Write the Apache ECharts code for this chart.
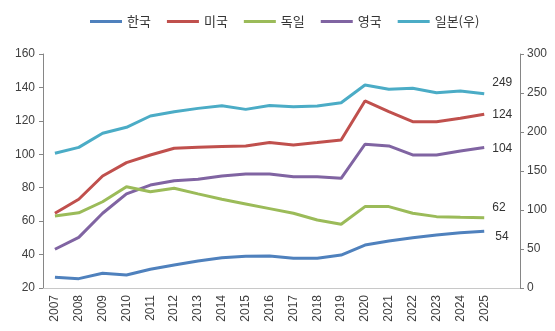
<!DOCTYPE html>
<html>
<head>
<meta charset="utf-8">
<script src="https://cdn.jsdelivr.net/npm/echarts@6/dist/echarts.min.js"></script>
<style>
html,body{margin:0;padding:0;background:#fff;}
#chart{width:555px;height:331px;}
</style>
</head>
<body>
<div id="chart"></div>
<script>
// Categories (last slot empty, as in the reference's axis)
const years = ['2007','2008','2009','2010','2011','2012','2013','2014','2015','2016','2017','2018','2019','2020','2021','2022','2023','2024','2025',''];
// Series values
const korea   = [26.4, 25.6, 28.8, 27.8, 31.2, 33.8, 36.2, 38.1, 39.0, 39.1, 37.8, 37.8, 39.7, 45.7, 48.1, 50.1, 51.7, 53.1, 54];
const usa     = [64.7, 73.1, 87.0, 95.0, 99.6, 103.6, 104.2, 104.6, 105.0, 107.0, 105.6, 107.0, 108.6, 131.9, 125.5, 119.5, 119.5, 121.5, 124];
const germany = [63.1, 65.0, 71.6, 80.6, 77.6, 79.7, 76.3, 73.1, 70.3, 67.5, 64.7, 60.7, 58.1, 68.7, 68.7, 64.7, 62.7, 62.3, 62];
const uk      = [43.2, 50.3, 64.7, 76.3, 81.6, 84.2, 85.0, 87.0, 88.2, 88.2, 86.6, 86.6, 85.6, 106.0, 105.0, 99.6, 99.6, 102.0, 104];
const japan   = [172.7, 180.3, 198.3, 206.0, 220.5, 226.0, 230.3, 233.7, 229.0, 234.0, 232.5, 233.3, 237.6, 260.3, 254.7, 256.0, 250.4, 252.6, 249];
// Axis ticks
const leftTicks = {min: 20, max: 160, interval: 20};
const rightTicks = {min: 0, max: 300, interval: 50};
const names = ['한국','미국','독일','영국','일본(우)'];

const colors = ['#4f81bd','#c0504d','#9bbb59','#8064a2','#4bacc6'];
// order: korea, usa, germany, uk, japan
const labelOffsets = [[6, 6], [3, 1], [3, -10], [3, 1], [3, -11]];
const FONT = '"Liberation Sans", "Noto Sans CJK KR", sans-serif';

function mk(name, data, idx, yIdx) {
  return {
    name: name, type: 'line', yAxisIndex: yIdx, data: data,
    symbol: 'none', showSymbol: false, smooth: false,
    lineStyle: {width: 3, color: colors[idx]},
    itemStyle: {color: colors[idx]},
    endLabel: {
      show: true, distance: 5, offset: labelOffsets[idx],
      formatter: (p) => String(Math.round(p.value)),
      color: '#333', fontSize: 12, fontFamily: FONT
    },
    emphasis: {disabled: true},
    z: 10 - idx
  };
}

const chart = echarts.init(document.getElementById('chart'), null, {renderer: 'canvas'});
chart.setOption({
  animation: false,
  textStyle: {fontFamily: FONT},
  legend: {
    data: names,
    left: 85, top: 10,
    icon: 'rect', itemWidth: 32, itemHeight: 3, itemGap: 16,
    textStyle: {fontSize: 13, color: '#333', fontFamily: '"Noto Sans CJK KR", sans-serif'}
  },
  grid: {left: 43, right: 35, top: 54, bottom: 43, containLabel: false},
  xAxis: {
    type: 'category', data: years, boundaryGap: true,
    axisLine: {show: true, lineStyle: {color: '#c8c8c8', width: 1}},
    axisTick: {show: false},
    axisLabel: {rotate: 90, fontSize: 12, color: '#404040', margin: 7, interval: 0, fontFamily: FONT},
    splitLine: {show: false}
  },
  yAxis: [
    {
      type: 'value', position: 'left', min: leftTicks.min, max: leftTicks.max, interval: leftTicks.interval,
      axisLine: {show: true, lineStyle: {color: '#868686'}},
      axisTick: {show: true, length: 4, lineStyle: {color: '#868686'}},
      axisLabel: {fontSize: 12, color: '#404040', margin: 8, fontFamily: FONT},
      splitLine: {show: false}
    },
    {
      type: 'value', position: 'right', min: rightTicks.min, max: rightTicks.max, interval: rightTicks.interval,
      axisLine: {show: true, lineStyle: {color: '#868686'}},
      axisTick: {show: true, length: 4, lineStyle: {color: '#868686'}},
      axisLabel: {fontSize: 12, color: '#404040', margin: 7, fontFamily: FONT},
      splitLine: {show: false}
    }
  ],
  series: [
    mk(names[0], korea, 0, 0),
    mk(names[1], usa, 1, 0),
    mk(names[2], germany, 2, 0),
    mk(names[3], uk, 3, 0),
    mk(names[4], japan, 4, 1)
  ]
});
</script>
</body>
</html>
